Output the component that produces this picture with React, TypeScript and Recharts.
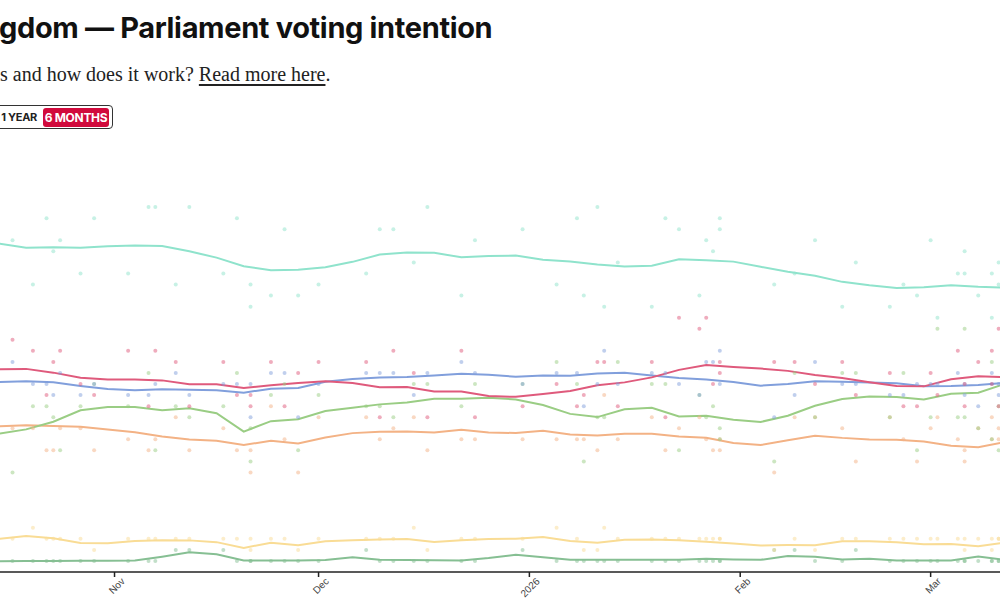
import React from "react";
import { ComposedChart, Line, Scatter, XAxis, YAxis } from "recharts";

// trend dates (every 4 days)
const trendDates = [
  "2025-10-15", "2025-10-19", "2025-10-23", "2025-10-27", "2025-10-31", "2025-11-04",
  "2025-11-08", "2025-11-12", "2025-11-16", "2025-11-20", "2025-11-24", "2025-11-28",
  "2025-12-02", "2025-12-06", "2025-12-10", "2025-12-14", "2025-12-18", "2025-12-22",
  "2025-12-26", "2025-12-30", "2026-01-03", "2026-01-07", "2026-01-11", "2026-01-15",
  "2026-01-19", "2026-01-23", "2026-01-27", "2026-01-31", "2026-02-04", "2026-02-08",
  "2026-02-12", "2026-02-16", "2026-02-20", "2026-02-24", "2026-02-28", "2026-03-04",
  "2026-03-08", "2026-03-12",
];

const reformTrend = [
  29.7, 29.32, 29.38, 29.32, 29.46, 29.53, 29.48, 29.0, 28.43, 27.65, 27.29, 27.33,
  27.56, 28.05, 28.71, 28.89, 28.87, 28.46, 28.58, 28.62, 28.24, 28.08, 27.8, 27.62,
  27.69, 28.28, 28.19, 28.07, 27.6, 27.15, 26.79, 26.24, 25.93, 25.69, 25.75, 25.93,
  25.79, 25.72,
];
const labourTrend = [
  18.33, 18.37, 18.03, 17.57, 17.42, 17.42, 17.33, 16.97, 16.97, 16.65, 16.88, 17.09,
  17.24, 17.09, 16.7, 16.72, 16.33, 16.33, 15.91, 15.84, 16.1, 16.37, 16.88, 17.15,
  17.6, 18.28, 18.73, 18.55, 18.4, 18.19, 17.82, 17.55, 17.17, 16.83, 16.79, 17.43,
  17.71, 17.63,
];
const conTrend = [
  17.18, 17.26, 17.15, 16.83, 16.54, 16.43, 16.52, 16.49, 16.43, 16.22, 16.58, 16.65,
  17.21, 17.45, 17.58, 17.63, 17.78, 17.94, 17.83, 17.66, 17.76, 17.74, 17.96, 18.03,
  17.78, 17.54, 17.42, 17.18, 16.85, 17.0, 17.26, 17.2, 17.13, 17.06, 16.79, 16.82,
  16.91, 17.12,
];
const greenTrend = [
  12.51, 12.9, 13.59, 14.62, 14.93, 14.92, 14.63, 14.81, 14.36, 12.7, 13.64, 13.82,
  14.56, 14.85, 15.16, 15.33, 15.67, 15.67, 15.75, 15.61, 15.1, 14.3, 14.01, 14.71,
  14.86, 14.07, 14.13, 13.78, 13.57, 14.13, 15.04, 15.65, 15.87, 15.82, 15.61, 16.11,
  16.22, 17.03,
];
const libDemTrend = [
  13.17, 13.28, 13.2, 13.14, 12.89, 12.64, 12.26, 11.99, 11.86, 11.48, 11.88, 11.63,
  12.16, 12.56, 12.68, 12.71, 12.62, 12.86, 12.62, 12.57, 12.77, 12.44, 12.35, 12.51,
  12.5, 12.26, 12.15, 11.67, 11.48, 11.92, 12.33, 12.13, 11.99, 11.95, 11.81, 11.42,
  11.29, 11.75,
];
const snpTrend = [
  3.0, 3.25, 3.06, 2.62, 2.61, 2.8, 2.87, 2.86, 2.7, 2.18, 2.64, 2.43,
  2.79, 2.87, 2.94, 2.99, 2.71, 2.87, 2.98, 3.01, 3.17, 2.81, 2.64, 2.92,
  2.94, 2.88, 2.73, 2.58, 2.4, 2.44, 2.43, 2.79, 2.79, 2.69, 2.52, 2.53,
  2.33, 2.67,
];
const plaidTrend = [
  0.98, 1.0, 1.0, 1.01, 1.02, 1.03, 1.38, 1.78, 1.61, 1.04, 1.04, 1.04,
  1.09, 1.34, 1.1, 1.09, 1.07, 1.05, 1.26, 1.56, 1.33, 1.1, 1.1, 1.1,
  1.1, 1.1, 1.19, 1.13, 1.1, 1.44, 1.38, 1.12, 1.19, 1.04, 1.04, 1.04,
  1.4, 1.1,
];

// individual polls
const pollDates = [
  "2025-10-17", "2025-10-20", "2025-10-22", "2025-10-23", "2025-10-24", "2025-10-27",
  "2025-10-29", "2025-11-03", "2025-11-06", "2025-11-07", "2025-11-10", "2025-11-12",
  "2025-11-17", "2025-11-19", "2025-11-21", "2025-11-21", "2025-11-24", "2025-11-26",
  "2025-11-28", "2025-12-01", "2025-12-08", "2025-12-10", "2025-12-12", "2025-12-15",
  "2025-12-17", "2025-12-22", "2025-12-24", "2025-12-31", "2026-01-05", "2026-01-08",
  "2026-01-09", "2026-01-11", "2026-01-12", "2026-01-14", "2026-01-19", "2026-01-21",
  "2026-01-23", "2026-01-26", "2026-01-27", "2026-01-28", "2026-01-29", "2026-01-29",
  "2026-02-06", "2026-02-09", "2026-02-12", "2026-02-16", "2026-02-18", "2026-02-23",
  "2026-02-25", "2026-02-27", "2026-03-01", "2026-03-02", "2026-03-05", "2026-03-06",
  "2026-03-06", "2026-03-08", "2026-03-10", "2026-03-10", "2026-03-11", "2026-03-11",
];
const reformPolls = [
  30, 26, 32, 29, 30, 27, 32, 27, 33, 33, 26, 33, 27, 32, 26, 24, 25, 31, 25, 26,
  27, 31, 31, 28, 33, 25, 30, 31, 26, 32, 25, 33, 24, 28, 24, 32, 31, 25, 30, 29,
  32, 31, 26, 27, 30, 24, 28, 24, 26, 25, 30, 23, 27, 29, 27, 25, 27, 23, 28, 26,
];
const labourPolls = [
  21, 20, 16, 19, 20, 17, 16, 20, 15, 20, 19, 15, 19, 16, 16, 15, 19, 15, 18, 19,
  19, 14, 20, 18, 14, 20, 14, 15, 17, 15, 16, 19, 19, 15, 19, 14, 23, 22, 23, 17,
  18, 19, 19, 19, 17, 19, 16, 18, 15, 15, 18, 16, 20, 15, 17, 19, 20, 17, 22, 15,
];
const conPolls = [
  19, 17, 17, 16, 18, 16, 17, 16, 16, 17, 18, 16, 17, 17, 14, 17, 18, 18, 14, 17,
  18, 18, 18, 16, 18, 19, 18, 17, 18, 18, 15, 17, 20, 17, 18, 18, 17, 16, 19, 19,
  20, 17, 14, 16, 19, 17, 17, 16, 16, 17, 17, 17, 18, 17, 16, 15, 18, 17, 17, 16,
];
const greenPolls = [
  9, 15, 15, 14, 11, 15, 17, 15, 18, 11, 15, 14, 15, 18, 10, 13, 16, 17, 11, 16,
  15, 15, 14, 17, 17, 15, 17, 17, 19, 17, 10, 14, 14, 19, 17, 17, 11, 16, 14, 15,
  13, 12, 10, 18, 14, 18, 18, 14, 18, 11, 14, 22, 14, 22, 14, 13, 19, 12, 11, 15,
];
const libDemPolls = [
  13, 13, 11, 11, 13, 13, 11, 12, 11, 12, 14, 11, 13, 11, 11, 9, 15, 12, 9, 14,
  14, 12, 13, 14, 11, 12, 12, 12, 12, 12, 12, 11, 16, 12, 14, 11, 13, 14, 12, 11,
  11, 12, 9, 14, 14, 13, 10, 14, 12, 10, 13, 14, 12, 11, 10, 13, 14, 12, 13, 12,
];
const snpPolls = [
  3, 4, 3, 3, 3, 3, 2, 3, 3, 3, 3, 3, 3, 3, 2, 3, 3, 3, 2, 3,
  3, 3, 3, 4, 2, 3, 3, 3, 4, 3, 2, 2, 4, 3, 3, 3, 3, 3, 3, 3,
  3, 3, 2, 3, 2, 3, 3, 3, 3, 3, 3, 3, 3, 3, 2, 3, 2, 3, 3, 3,
];
const plaidPolls = [
  1, 1, 1, 1, 1, 1, 1, 1, 1, 1, 2, 2, 2, 1, 1, 1, 1, 1, 1, 1,
  2, 1, 1, 1, 1, 1, 1, 2, 1, 1, 1, 1, 1, 1, 1, 1, 1, 1, 1, 1,
  1, 1, 2, 2, 1, 1, 2, 1, 1, 1, 1, 1, 1, 1, 1, 1, 1, 1, 1, 1,
];

const monthTicks = ["2025-11-01", "2025-12-01", "2026-01-01", "2026-02-01", "2026-03-01"];
const monthLabels = ["Nov", "Dec", "2026", "Feb", "Mar"];

const parties = [
  { name: "Reform UK", trend: reformTrend, polls: reformPolls, color: "#8fe3cc" },
  { name: "Plaid Cymru", trend: plaidTrend, polls: plaidPolls, color: "#86bf93" },
  { name: "SNP", trend: snpTrend, polls: snpPolls, color: "#f9dc95" },
  { name: "Liberal Democrats", trend: libDemTrend, polls: libDemPolls, color: "#f3b285" },
  { name: "Greens", trend: greenTrend, polls: greenPolls, color: "#9acd84" },
  { name: "Conservatives", trend: conTrend, polls: conPolls, color: "#819fdc" },
  { name: "Labour", trend: labourTrend, polls: labourPolls, color: "#df5a7c" },
];

const toTime = (d: string) => Date.parse(d + "T00:00:00Z");
const domain = [Date.parse("2025-10-15T03:50:00Z"), Date.parse("2026-03-11T04:48:00Z")];
const tickTimes = monthTicks.map(toTime);

const MonthTick = (props: any) => {
  const { x, y, payload } = props;
  const i = tickTimes.indexOf(payload.value);
  return (
    <g transform={`translate(${x + 11},${y + 3})`}>
      <text
        transform="rotate(-45)"
        textAnchor="end"
        fontSize={10}
        fill="#444"
        fontFamily="'Liberation Sans', Arial, sans-serif"
      >
        {monthLabels[i]}
      </text>
    </g>
  );
};

export default function App() {
  const series = parties.map((p) => ({
    ...p,
    trendData: trendDates.map((d, i) => ({ t: toTime(d), v: p.trend[i] })),
    pollData: pollDates.map((d, i) => ({ t: toTime(d), v: p.polls[i] })),
  }));

  return (
    <div
      style={{
        position: "absolute",
        left: 0,
        top: 0,
        width: 1000,
        height: 600,
        overflow: "hidden",
        background: "#fff",
      }}
    >
      <ComposedChart width={1000} height={600} margin={{ top: 185, right: 0, bottom: 0, left: 0 }}>
        <XAxis
          dataKey="t"
          type="number"
          domain={domain}
          allowDataOverflow
          ticks={tickTimes}
          tick={<MonthTick />}
          height={28}
          tickSize={5}
          stroke="#222"
          strokeWidth={1.5}
          interval={0}
        />
        <YAxis hide type="number" domain={[0, 35]} allowDataOverflow />
        {series.map((s) => (
          <Scatter
            key={s.name + "-polls"}
            name={s.name}
            data={s.pollData}
            dataKey="v"
            isAnimationActive={false}
            shape={(p: any) => (
              <circle cx={p.cx} cy={p.cy} r={2} fill={s.color} fillOpacity={0.5} />
            )}
          />
        ))}
        {series.map((s) => (
          <Line
            key={s.name}
            name={s.name}
            data={s.trendData}
            dataKey="v"
            type="linear"
            stroke={s.color}
            strokeWidth={2}
            dot={false}
            activeDot={false}
            isAnimationActive={false}
          />
        ))}
      </ComposedChart>

      <div
        style={{
          position: "absolute",
          left: -1,
          top: 10,
          fontFamily: "Inter, 'Liberation Sans', sans-serif",
          fontWeight: 700,
          fontSize: 29,
          letterSpacing: -0.35,
          color: "#111",
          whiteSpace: "nowrap",
        }}
      >
        gdom — Parliament voting intention
      </div>
      <div
        style={{
          position: "absolute",
          left: 0,
          top: 63,
          fontFamily: "'Liberation Serif', serif",
          fontSize: 20,
          color: "#222",
          whiteSpace: "nowrap",
        }}
      >
        s and how does it work?{" "}
        <span style={{ textDecoration: "underline", textUnderlineOffset: 3 }}>Read more here</span>.
      </div>
      <div
        style={{
          position: "absolute",
          left: -40,
          top: 105,
          width: 151,
          height: 22,
          border: "1.5px solid #333",
          borderRadius: 4,
        }}
      />
      <div
        style={{
          position: "absolute",
          left: 0,
          top: 109,
          width: 37,
          textAlign: "right",
          fontFamily: "Inter, 'Liberation Sans', sans-serif",
          fontWeight: 700,
          fontSize: 11,
          lineHeight: "16px",
          letterSpacing: -0.3,
          color: "#222",
          whiteSpace: "nowrap",
        }}
      >
        1 YEAR
      </div>
      <div
        style={{
          position: "absolute",
          left: 43,
          top: 108,
          width: 66,
          height: 19,
          borderRadius: 3,
          background: "#d10a3c",
          color: "#fff",
          fontFamily: "Inter, 'Liberation Sans', sans-serif",
          fontWeight: 700,
          fontSize: 12,
          lineHeight: "19px",
          letterSpacing: -0.3,
          textAlign: "center",
        }}
      >
        6 MONTHS
      </div>
    </div>
  );
}
